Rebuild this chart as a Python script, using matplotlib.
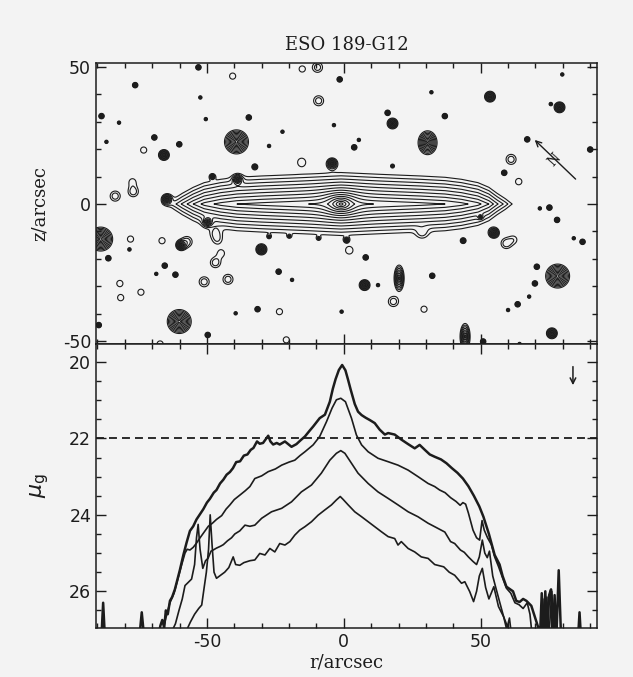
import numpy as np
import matplotlib.pyplot as plt
from matplotlib.ticker import MultipleLocator

plt.rcParams['axes.unicode_minus'] = False

# surface brightness cuts along the major axis (r in arcsec, mu_g in mag/arcsec^2)
r_a = [-92, -88.6, -87.9, -87.2, -74.8, -73.8, -72.8, -68.0, -67.0, -66.3,
       -65.6, -65.0, -64.3, -63.5, -62.7, -61.7, -60.8, -59.9, -58.6, -57.4,
       -56.2, -55.0, -53.8, -52.5, -51.3, -50.0, -48.9, -47.5, -46.5, -45.2,
       -44.0, -42.8, -41.6, -40.5, -39.3, -37.9, -36.5, -35.2, -34.0, -33.0,
       -31.7, -30.7, -29.5, -28.5, -27.6, -26.8, -25.8, -24.5, -23.4, -21.5,
       -20.3, -19.1, -17.3, -15.8, -14.2, -12.5, -11.2, -10.0, -8.8, -6.9,
       -5.1, -4.0, -3.0, -1.8, -0.6, 0.6, 1.5, 2.5, 4.0, 5.2,
       6.5, 8.0, 9.5, 11.3, 13.1, 15.0, 16.2, 18.6, 21.0, 23.5,
       25.9, 27.7, 29.6, 31.4, 33.2, 35.5, 37.5, 39.5, 41.5, 43.5,
       45.5, 47.5, 49.5, 51.0, 53.0, 55.1, 56.9, 58.0, 59.4, 60.8,
       61.8, 63.0, 64.2, 65.5, 66.7, 68.5, 69.7, 70.9, 71.6, 72.3,
       73.0, 73.6, 74.3, 75.0, 75.7, 76.3, 77.0, 77.6, 78.5, 79.4,
       85.5, 86.1, 86.7, 92]
mu_a = [27.3, 27.3, 26.3, 27.3, 27.3, 26.55, 27.3, 27.3, 26.9, 26.75,
        26.95, 26.5, 26.6, 26.25, 26.15, 25.95, 25.7, 25.45, 25.05, 24.72,
        24.42, 24.3, 24.12, 23.98, 23.85, 23.68, 23.58, 23.42, 23.35, 23.18,
        23.08, 22.95, 22.88, 22.78, 22.62, 22.6, 22.45, 22.42, 22.3, 22.25,
        22.08, 22.14, 22.12, 22.02, 21.93, 22.08, 22.16, 22.12, 22.16, 22.08,
        22.15, 22.22, 22.15, 22.05, 21.95, 21.8, 21.69, 21.58, 21.47, 21.38,
        21.04, 20.7, 20.45, 20.21, 20.08, 20.22, 20.45, 20.72, 21.1, 21.3,
        21.39, 21.46, 21.52, 21.6, 21.77, 21.9, 21.86, 21.9, 22.03, 22.15,
        22.26, 22.17, 22.3, 22.42, 22.48, 22.55, 22.65, 22.78, 22.9, 23.05,
        23.25, 23.5, 23.78, 24.05, 24.5, 25.05, 25.3, 25.6, 25.88, 25.95,
        26.0, 26.25, 26.28, 26.2, 26.25, 26.38, 26.65, 26.92, 27.3, 26.05,
        27.3, 26.0, 27.3, 26.1, 25.95, 27.3, 26.1, 27.3, 25.45, 27.3,
        27.3, 26.55, 27.3, 27.3]

r_b = [-67.0, -65.0, -63.5, -62.0, -60.5, -59.2, -58.0, -57.2, -56.2, -55.0,
       -53.8, -52.5, -51.0, -49.5, -48.0, -46.5, -44.6, -43.0, -41.6, -40.0,
       -37.9, -36.0, -34.3, -32.5, -30.0, -27.6, -25.0, -22.7, -20.0, -17.9,
       -16.0, -14.2, -11.2, -8.8, -6.3, -4.3, -2.7, -1.1, 0.6, 2.8,
       4.6, 6.5, 8.9, 12.5, 16.2, 19.8, 23.5, 27.1, 30.8, 33.2,
       35.0, 37.0, 39.0, 41.0, 42.5, 43.5, 44.5, 45.5, 47.2, 48.5,
       49.6, 50.5, 51.3, 52.5, 53.9, 55.1, 56.5, 58.0, 59.4, 61.0,
       62.5, 64.0, 65.5, 67.0, 68.0, 69.0, 72.0, 72.7, 73.3, 74.2,
       74.8, 76.0, 76.8, 92]
mu_b = [27.3, 26.7, 26.3, 26.05, 25.65, 25.3, 25.0, 24.9, 24.92, 24.85,
        24.74, 24.6, 24.45, 24.3, 24.22, 24.12, 24.02, 23.85, 23.74, 23.6,
        23.48, 23.37, 23.26, 23.05, 22.98, 22.87, 22.8, 22.7, 22.62, 22.57,
        22.45, 22.35, 22.17, 21.95, 21.56, 21.21, 20.99, 20.95, 21.04, 21.47,
        21.91, 22.17, 22.35, 22.52, 22.61, 22.7, 22.83, 23.0, 23.18, 23.26,
        23.35, 23.42, 23.55, 23.65, 23.75, 23.68, 23.72, 23.95, 24.4, 24.6,
        24.66, 24.15, 24.4, 24.6, 24.78, 25.1, 25.35, 25.65, 25.92, 26.05,
        26.3, 26.35, 26.45, 26.3, 26.6, 27.3, 27.3, 26.2, 27.3, 26.15,
        27.3, 26.0, 27.3, 27.3]

r_c = [-64.0, -62.5, -61.5, -60.2, -59.0, -58.0, -57.0, -55.6, -54.5, -53.8,
       -53.2, -52.5, -51.5, -50.5, -49.6, -48.5, -47.7, -46.5, -45.0, -44.0,
       -42.5, -41.0, -39.8, -38.0, -36.1, -34.3, -32.5, -30.0, -26.4, -22.7,
       -19.1, -15.5, -11.8, -8.2, -5.1, -2.7, -1.1, 0.4, 2.8, 5.2,
       8.9, 12.5, 16.2, 19.8, 23.5, 27.1, 30.8, 33.2, 36.9, 39.0,
       40.5, 42.6, 44.0, 45.5, 47.2, 48.5, 49.5, 50.6, 51.5, 52.4,
       53.2, 54.4, 55.5, 57.0, 58.4, 59.5, 60.5, 61.5, 92]
mu_c = [27.3, 27.0, 26.85, 26.5, 26.2, 25.85, 25.78, 25.68, 25.3, 24.6,
        24.25, 24.9, 25.4, 25.2, 25.14, 24.95, 24.92, 24.87, 24.82, 24.78,
        24.68, 24.6, 24.5, 24.42, 24.27, 24.3, 24.27, 24.09, 23.92, 23.83,
        23.66, 23.4, 23.22, 22.91, 22.57, 22.39, 22.32, 22.39, 22.65, 22.91,
        23.18, 23.4, 23.57, 23.74, 23.92, 24.05, 24.22, 24.31, 24.45, 24.7,
        24.75, 24.92, 24.98, 25.1, 25.22, 25.3, 25.1, 24.66, 25.0, 25.12,
        24.95, 25.6, 25.9, 26.3, 26.67, 27.0, 26.7, 27.3, 27.3]

r_d = [-60.0, -58.5, -57.3, -56.0, -54.5, -53.0, -51.9, -51.0, -50.2, -49.4,
       -48.8, -48.1, -47.4, -46.5, -45.0, -43.5, -42.0, -40.4, -39.5, -38.0,
       -36.5, -34.3, -32.5, -30.7, -28.8, -27.0, -25.2, -23.4, -21.5, -19.7,
       -17.9, -16.1, -14.2, -11.8, -9.4, -6.9, -4.5, -2.7, -1.3, -0.2,
       1.6, 4.0, 6.5, 8.9, 11.3, 13.7, 16.2, 18.6, 19.8, 21.0,
       23.5, 25.9, 28.3, 30.8, 33.2, 36.5, 38.5, 40.5, 43.0, 44.2,
       46.0, 47.4, 48.5, 49.5, 50.6, 51.8, 53.0, 54.8, 56.5, 58.4,
       60.2, 61.0, 92]
mu_d = [27.3, 27.1, 27.0, 26.8, 26.6, 26.45, 26.36, 25.9, 25.5, 24.9,
        24.0, 24.8, 25.5, 25.66, 25.58, 25.5, 25.38, 25.1, 25.3, 25.32,
        25.25, 25.2, 25.18, 25.01, 25.05, 24.88, 24.97, 24.75, 24.79, 24.7,
        24.53, 24.4, 24.31, 24.18, 24.01, 23.87, 23.74, 23.61, 23.52, 23.6,
        23.74, 23.92, 24.05, 24.18, 24.31, 24.44, 24.57, 24.62, 24.79, 24.7,
        24.88, 24.97, 25.1, 25.14, 25.3, 25.36, 25.5, 25.58, 25.79, 25.75,
        26.01, 26.27, 26.0, 25.6, 25.4, 25.9, 26.2, 25.88, 26.4, 26.67,
        27.0, 27.3, 27.3]

mu_cut = 22.0          # dashed reference level
arrow_r = 83.7         # marker arrow in the profile panel

# contour map model: mid-plane disk profile, vertical gradient, small bulge
disk_r = [-75, -67, -64.5, -62, -59, -55, -51, -45, -39, -30, -15, -1,
          13, 28, 37, 43, 49, 53, 56, 59, 61.5, 64, 72]
disk_mu = [30, 27, 26, 25.2, 24.4, 23.5, 22.8, 22.3, 22.0, 21.8, 21.55, 21.3,
           21.55, 21.8, 22.0, 22.3, 22.8, 23.5, 24.4, 25.2, 26, 27, 30]
disk_slope = 0.41      # mag per arcsec out of the plane
bulge_mu0, bulge_scale, bulge_q, bulge_r0 = 19.3, 1.8, 0.6, -1.0

# field stars: position and type
star_r = [-53.1, -40.6, -15.2, -9.6, -1.5, -76.2, -52.4, -9.2, 32.0, 53.4,
          79.8, 75.6, 78.8, -88.5, -50.4, -34.7, -82.1, 16.0, 17.8, 36.9,
          -3.6, -22.4, -39.2, 30.6, -69.2, -60.1, -73.1, -65.7, -86.7, 5.5,
          3.8, 67.0, 90.0, -15.4, -4.3, -32.5, 17.8, 61.1, 58.6, 63.9,
          -48.0, -38.8, -77.2, -83.5, -76.9, -64.6, 75.1, 71.6, 77.9, -49.7,
          49.9, 54.8, -88.8, -77.9, -78.3, -66.4, -59.4, -57.3, -46.9, -46.2,
          -44.8, -46.9, -27.3, -30.1, -23.8, -18.9, -9.2, 1.0, 2.0, 8.0,
          43.6, 59.3, 62.0, 87.2, 84.0, -86.0, -81.8, -81.5, -74.1, -65.4,
          -61.5, -68.5, -51.0, -42.3, -23.5, -31.5, -39.5, -60.1, 7.6, 12.5,
          20.2, 18.1, 32.3, 29.3, -0.8, 44.3, 50.9, 64.2, 76.0, 78.1,
          69.8, 67.7, 63.5, 60.0, 70.5, -49.7, -21.0, -67.1, -89.5, 28.6,
          -19.9, -27.3]
star_z = [49.9, 46.7, 49.3, 49.9, 45.5, 43.4, 38.9, 37.7, 40.8, 39.2,
          47.3, 36.5, 35.3, 32.1, 31.0, 31.6, 29.7, 33.3, 29.4, 32.1,
          28.8, 26.4, 22.7, 22.4, 24.3, 21.8, 19.7, 17.9, 22.7, 23.4,
          20.7, 23.6, 19.9, 15.4, 14.8, 13.6, 13.9, 16.3, 11.4, 8.2,
          10.0, 8.8, 8.1, 2.9, 4.5, 1.7, -1.3, -1.6, -5.8, -6.4,
          -4.6, -10.5, -12.8, -12.8, -16.6, -13.4, -15.0, -13.8, -10.7, -13.1,
          -18.0, -21.4, -11.9, -16.6, -24.7, -27.7, -12.5, -13.1, -17.0, -19.5,
          -13.4, -14.4, -13.0, -13.8, -12.5, -19.8, -29.0, -34.2, -32.2, -22.5,
          -25.8, -25.5, -28.4, -27.5, -39.3, -38.4, -39.9, -42.9, -29.6, -29.6,
          -27.1, -35.6, -26.2, -38.4, -39.3, -48.4, -50.2, -51.1, -47.2, -26.3,
          -29.0, -33.8, -36.6, -38.7, -22.9, -47.8, -49.6, -51.1, -44.2, -10.5,
          -11.7, 21.2]
star_kind = ['d', 'r', 'r', 'r2', 'd', 'd', 't', 'r2', 't', 'm',
             't', 't', 'm', 'd', 't', 'd', 't', 'd', 'm', 'd',
             't', 't', 'L', 'L2', 'd', 'd', 'r', 'm', 't', 't',
             'd', 'd', 'd', 'r', 'm', 'd', 't', 'r2', 'd', 'r',
             'd', 'm', 'r', 'r2', 'r2', 'm', 'd', 't', 'd', 'm',
             'd', 'm', 'L', 'r', 't', 'r', 'm', 'r2', 'r', 'r',
             'r', 'r2', 't', 'm', 'd', 't', 't', 'd', 'r', 'd',
             'd', 'r2', 'r', 'd', 't', 'd', 'r', 'r', 'r', 'd',
             'd', 't', 'r2', 'r2', 'r', 'd', 't', 'L', 'm', 't',
             'E', 'r2', 'd', 'r', 't', 'E', 'd', 't', 'm', 'L',
             'd', 't', 'd', 't', 'd', 'd', 'r', 'r', 'd', 'r',
             't', 't']
# profile shape, peak mag, scale along r, scale along z
star_types = {'t': ('exp', 23.8, 0.3, 0.3), 'd': ('exp', 22.4, 0.3, 0.3),
              'm': ('exp', 21.7, 0.5, 0.5), 'L': ('exp', 21.0, 0.95, 0.95),
              'L2': ('exp', 21.3, 0.8, 1.0), 'E': ('exp', 22.0, 0.5, 1.3),
              'r': ('gauss', 25.7, 1.5, 1.5), 'r2': ('gauss', 25.2, 1.5, 1.5)}
levels = np.arange(19.0, 26.01, 0.5)

ink = '#1c1c1c'
paper = '#f3f3f3'

# build the brightness map
rr = np.arange(-91.5, 93.0, 0.15)
zz = np.arange(-52.5, 52.5, 0.15)
R, Z = np.meshgrid(rr, zz)
flux = 10 ** (-0.4 * (np.interp(R, disk_r, disk_mu) + disk_slope * np.abs(Z)))
Rb = np.hypot(R - bulge_r0, Z / bulge_q)
flux += 10 ** (-0.4 * bulge_mu0) * np.exp(-Rb / bulge_scale)
for x0, z0, k in zip(star_r, star_z, star_kind):
    shape, peak, sx, sz = star_types[k]
    d2 = ((R - x0) / sx) ** 2 + ((Z - z0) / sz) ** 2
    if shape == 'exp':
        flux += 10 ** (-0.4 * peak) * np.exp(-np.sqrt(d2))
    else:
        flux += 10 ** (-0.4 * peak) * np.exp(-0.5 * d2)
mu_map = -2.5 * np.log10(flux + 1e-20)

fig = plt.figure(figsize=(6.33, 6.77), dpi=100, facecolor=paper)
ax1 = fig.add_axes([0.1517, 0.4919, 0.7915, 0.4151], facecolor=paper)
ax2 = fig.add_axes([0.1517, 0.0724, 0.7915, 0.4195], facecolor=paper)

# top: isophotes
ax1.contour(rr, zz, mu_map, levels=levels, colors=ink, linewidths=0.8)
ax1.set_xlim(-90.5, 92.5)
ax1.set_ylim(-51.1, 51.5)
ax1.annotate('', xy=(69.0, 24.1), xytext=(85.4, 8.4),
             arrowprops=dict(arrowstyle='->', color=ink, lw=1.0))
ax1.text(77.0, 16.2, 'N', rotation=48, ha='center', va='center',
         fontsize=10, family='DejaVu Serif', color=ink)
ax1.set_title('ESO 189-G12', family='DejaVu Serif', fontsize=13, pad=9, color=ink)
ax1.set_ylabel('z/arcsec', family='DejaVu Serif', fontsize=13, color=ink)
ax1.yaxis.set_label_coords(-0.094, 0.5)
ax1.xaxis.set_major_locator(MultipleLocator(50))
ax1.xaxis.set_minor_locator(MultipleLocator(10))
ax1.yaxis.set_major_locator(MultipleLocator(50))
ax1.yaxis.set_minor_locator(MultipleLocator(10))
ax1.tick_params(labelbottom=False)

# bottom: profiles
ax2.plot(r_a, mu_a, color=ink, lw=1.8)
ax2.plot(r_b, mu_b, color=ink, lw=1.2)
ax2.plot(r_c, mu_c, color=ink, lw=1.2)
ax2.plot(r_d, mu_d, color=ink, lw=1.2)
ax2.axhline(mu_cut, color=ink, lw=1.3, ls=(0, (4.4, 2.8)))
ax2.annotate('', xy=(arrow_r, 20.68), xytext=(arrow_r, 20.05),
             arrowprops=dict(arrowstyle='->', color=ink, lw=1.1))
ax2.set_xlim(-90.5, 92.5)
ax2.set_ylim(26.96, 19.53)
ax2.set_xlabel('r/arcsec', family='DejaVu Serif', fontsize=13, labelpad=2, color=ink)
ax2.set_ylabel(r'$\mu_{\rm g}$', fontsize=16, color=ink)
ax2.yaxis.set_label_coords(-0.09, 0.5)
ax2.xaxis.set_major_locator(MultipleLocator(50))
ax2.xaxis.set_minor_locator(MultipleLocator(10))
ax2.yaxis.set_major_locator(MultipleLocator(2))
ax2.yaxis.set_minor_locator(MultipleLocator(0.5))

for ax in (ax1, ax2):
    ax.tick_params(which='both', direction='in', top=True, right=True,
                   color=ink, labelcolor=ink, labelsize=12.5, width=1.0)
    ax.tick_params(which='major', length=7)
    ax.tick_params(which='minor', length=3.5)
    for s in ax.spines.values():
        s.set_linewidth(1.1)
        s.set_color(ink)

fig.savefig('out.png', dpi=100, facecolor=paper)
